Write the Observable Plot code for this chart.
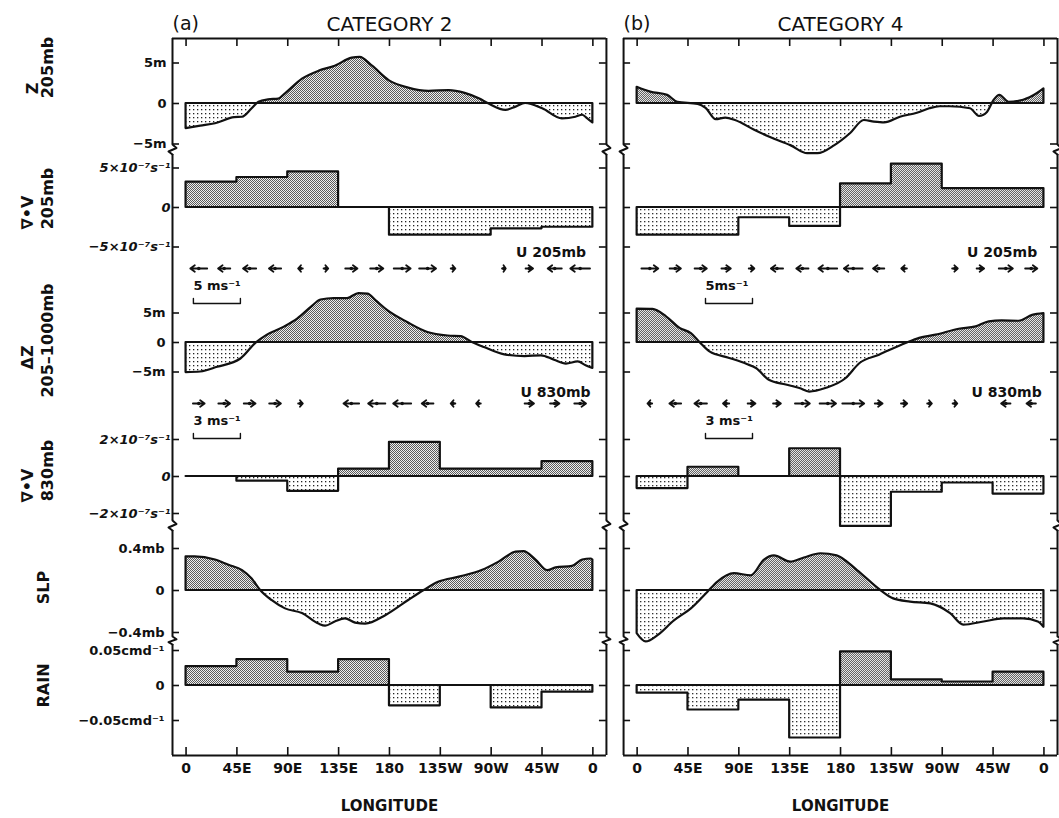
<!DOCTYPE html>
<html>
<head>
<meta charset="utf-8">
<script src="https://cdn.jsdelivr.net/npm/d3@7"></script>
<script src="https://cdn.jsdelivr.net/npm/@observablehq/plot@0.6"></script>
<style>
  html, body { margin: 0; padding: 0; background: #fff; }
  #chart { position: relative; width: 1059px; height: 818px; overflow: hidden; background: #fff; }
  #chart > svg { position: absolute; left: 0; top: 0; }
</style>
</head>
<body>
<svg width="0" height="0" style="position:absolute">
  <defs>
    <pattern id="dense" width="2" height="2" patternUnits="userSpaceOnUse">
      <rect width="2" height="2" fill="#eeeeee"/>
      <rect width="1" height="1" fill="#5a5a5a"/>
      <rect x="1" y="1" width="1" height="1" fill="#5a5a5a"/>
    </pattern>
    <pattern id="sparse" width="4" height="4" patternUnits="userSpaceOnUse">
      <rect width="4" height="4" fill="#ffffff"/>
      <rect x="1" y="1" width="1.3" height="1.3" fill="#222"/>
    </pattern>
  </defs>
</svg>
<div id="chart"></div>
<script>
// ---------------- data ----------------
const panels = ["a", "b"];
const panelTags = ["(a)", "(b)"];
const categories = ["CATEGORY 2", "CATEGORY 4"];
const lonTicks = [0, 45, 90, 135, 180, 225, 270, 315, 360];
const lonLabels = ["0", "45E", "90E", "135E", "180", "135W", "90W", "45W", "0"];

// Z 205mb anomaly (m): [longitude, value]
const z205A = [[0,-3.1],[13,-2.8],[26,-2.5],[43,-1.75],[50,-1.7],[58.5,-0.65],[64.5,0.15],[73,0.45],[82,0.55],[88,1.2],[103,3.0],[118,4.0],[132,4.6],[147,5.6],[154,5.7],[165,4.6],[180,2.8],[197,1.9],[215,1.5],[233,1.6],[247,1.25],[260,0.55],[268.6,-0.1],[283,-0.85],[292,-0.45],[300.5,0],[315.6,-0.65],[333,-1.9],[345,-1.7],[351,-1.45],[355.5,-1.9],[360,-2.4]];
const z205B = [[0,2.0],[12,1.4],[27,1.0],[36,0.15],[54,-0.1],[61,-0.6],[70,-2.0],[78.5,-1.8],[87,-2.1],[104,-3.3],[118,-4.2],[136,-5.2],[151,-6.2],[160,-6.2],[175,-5.2],[189,-3.7],[201,-2.1],[210,-2.3],[219,-2.4],[233,-1.7],[248,-1.2],[259,-0.65],[268,-0.4],[277,-0.4],[295,-0.65],[303,-1.6],[310,-1.1],[316,0.4],[321,1.0],[329,0.15],[342,0.4],[354,1.2],[360,1.8]];

// divergence 205mb (1e-7 s^-1), one value per 45° box
const div205A = [3.2, 3.8, 4.5, 0, -3.5, -3.5, -2.7, -2.5];
const div205B = [-3.5, -3.5, -1.3, -2.4, 3.0, 5.5, 2.4, 2.4];

// zonal wind (m/s) at arrow longitudes
const windLon = [11.25, 33.75, 56.25, 78.75, 101.25, 123.75, 146.25, 168.75, 191.25, 213.75, 236.25, 258.75, 281.25, 303.75, 326.25, 348.75];
const u205A = [-1.8, -1.3, -1.4, -1.3, -0.5, 0.5, 1.3, 1.4, 1.8, 1.8, 0.5, 0, 0.4, 0.8, -1.5, -2.1];
const u205B = [1.8, 1.2, 1.3, 1.0, 0.6, -1.3, -1.3, -2.0, -2.0, -1.2, -0.6, 0, 0.6, 0.8, 1.5, 1.3];
const u830A = [0.75, 0.75, 0.75, 0.75, 0.3, 0, -1.0, -1.1, -1.15, -0.75, -0.3, -0.3, 0, 0.6, 0.6, 0.75];
const u830B = [-0.3, -0.75, -0.8, -0.4, 0.5, 0.5, 0.95, 1.05, 1.4, 0.5, 0.4, 0.3, 0.3, 0, -0.6, -0.6];

// thickness 205-1000mb (m)
const dzA = [[0,-5.1],[13,-5.0],[28,-4.2],[48.5,-2.8],[62,-0.1],[72,1.25],[87,2.6],[99,4.0],[110.5,5.9],[119.4,7.2],[131,7.45],[143,7.45],[153,8.3],[161,8.2],[168,7.1],[178.5,5.4],[196,3.4],[214,1.7],[232,1.1],[243.5,1.0],[252.4,0.1],[264,-0.85],[282,-2.1],[300,-2.4],[314.5,-2.25],[326,-3.0],[336.6,-3.65],[347,-3.3],[354,-3.95],[360,-4.4]];
const dzB = [[0,5.65],[14,5.6],[26,4.35],[38,2.4],[48,1.5],[55.6,0],[64.4,-1.6],[82,-2.7],[97,-3.7],[105.6,-4.4],[117,-6.4],[132,-7.2],[144,-7.8],[152.7,-8.4],[167,-7.8],[185,-6.1],[197,-3.6],[214.5,-2.15],[238,-0.17],[250,0.7],[264.5,1.25],[285,2.25],[300,2.65],[311.6,3.5],[323,3.65],[338,3.6],[350,4.6],[360,4.9]];

// divergence 830mb (1e-7 s^-1)
const div830A = [0, -0.25, -0.8, 0.4, 1.85, 0.4, 0.4, 0.8];
const div830B = [-0.65, 0.5, 0, 1.5, -2.7, -0.85, -0.35, -0.95];

// sea level pressure (mb)
const slpA = [[0,0.32],[8,0.32],[26,0.29],[38,0.24],[50,0.19],[58.5,0.11],[66,0],[76,-0.095],[88,-0.175],[103,-0.22],[117.6,-0.32],[123.5,-0.34],[132,-0.3],[141,-0.27],[150,-0.31],[159,-0.32],[176.7,-0.24],[197,-0.095],[210.7,0],[224,0.08],[241.8,0.127],[262,0.19],[277,0.27],[292,0.365],[299,0.37],[309.7,0.29],[320,0.19],[327.4,0.216],[342,0.23],[351,0.29],[358.4,0.3],[360,0.29]];
const slpB = [[0,-0.41],[8,-0.49],[18.5,-0.43],[33,-0.29],[48,-0.175],[62.7,-0.016],[71.5,0.08],[86,0.16],[101,0.14],[112.7,0.29],[121.5,0.33],[136,0.27],[148,0.31],[162.7,0.35],[177,0.33],[195,0.19],[215.6,0],[227,-0.08],[242,-0.11],[259.8,-0.127],[277.4,-0.22],[289,-0.33],[307,-0.3],[324.5,-0.27],[342,-0.27],[355,-0.3],[360,-0.35]];

// rain (cm/day)
const rainA = [0.027, 0.037, 0.019, 0.037, -0.029, 0, -0.032, -0.0095];
const rainB = [-0.011, -0.035, -0.021, -0.075, 0.048, 0.008, 0.005, 0.019];

// axis ticks per row
const zTicks = [5, 0, -5], zTickLabels = ["5m", "0", "\u22125m"];
const div205Ticks = [5, 0, -5], div205TickLabels = ["5\u00d710\u207b\u2077s\u207b\u00b9", "0", "\u22125\u00d710\u207b\u2077s\u207b\u00b9"];
const dzTicks = [5, 0, -5], dzTickLabels = ["5m", "0", "\u22125m"];
const div830Ticks = [2, 0, -2], div830TickLabels = ["2\u00d710\u207b\u2077s\u207b\u00b9", "0", "\u22122\u00d710\u207b\u2077s\u207b\u00b9"];
const slpTicks = [0.4, 0, -0.4], slpTickLabels = ["0.4mb", "0", "\u22120.4mb"];
const rainTicks = [0.05, 0, -0.05], rainTickLabels = ["0.05cmd\u207b\u00b9", "0", "\u22120.05cmd\u207b\u00b9"];

const key205 = [{panel: "a", lon: 6.5, speed: 5, label: "5 ms\u207b\u00b9"}, {panel: "b", lon: 60.5, speed: 5, label: "5ms\u207b\u00b9"}];
const key830 = [{panel: "a", lon: 6.5, speed: 3, label: "3 ms\u207b\u00b9"}, {panel: "b", lon: 60.5, speed: 3, label: "3 ms\u207b\u00b9"}];

// ---------------- helpers ----------------
const W = 1059, H = 818, ML = 172, MR = 2;
const XD = [-12, 372];
const TICK = 6.2;
const ink = "#111";
const FONT = "'DejaVu Sans', 'Liberation Sans', sans-serif";

const windArrow = {
  draw(ctx, l) {
    const h = Math.min(4.5, l * 0.6);
    ctx.moveTo(0, 0); ctx.lineTo(0, -l);
    ctx.moveTo(-3.2, -l + h); ctx.lineTo(0, -l); ctx.lineTo(3.2, -l + h);
  }
};
const bracket = {
  draw(ctx, l) {
    ctx.moveTo(-5, 0); ctx.lineTo(0, 0); ctx.lineTo(0, -l); ctx.lineTo(-5, -l);
  }
};
const zig = {
  draw(ctx, l) {
    ctx.moveTo(0, 0); ctx.lineTo(-4, -l * 0.3); ctx.lineTo(4, -l * 0.65); ctx.lineTo(0, -l);
  }
};

const curveData = (a, b) => [...a.map(([lon, v]) => ({panel: "a", lon, v})), ...b.map(([lon, v]) => ({panel: "b", lon, v}))];
const stepData = (a, b) => {
  const f = (vals, panel) => [...vals.map((v, i) => ({panel, lon: lonTicks[i], v})), {panel, lon: 360, v: vals[vals.length - 1]}];
  return [...f(a, "a"), ...f(b, "b")];
};

function fillMarks(data, curve) {
  return [
    Plot.areaY(data, {fx: "panel", x: "lon", y1: 0, y2: d => Math.max(0, d.v), curve, fill: "url(#dense)"}),
    Plot.areaY(data, {fx: "panel", x: "lon", y1: 0, y2: d => Math.min(0, d.v), curve, fill: "url(#sparse)"}),
    Plot.areaY(data, {fx: "panel", x: "lon", y1: 0, y2: "v", curve, fill: "none", stroke: ink, strokeWidth: 2.2, strokeLinejoin: "round"})
  ];
}

function yTickMarks(vals, labels, dx, italic) {
  const d = vals.map((v, i) => ({v, t: labels[i]}));
  return [
    Plot.ruleY(vals, {x1: XD[0], x2: XD[0] + TICK, stroke: ink, strokeWidth: 1.6}),
    Plot.ruleY(vals, {x1: XD[1] - TICK, x2: XD[1], stroke: ink, strokeWidth: 1.6}),
    Plot.text(d, {fx: () => "a", y: "v", text: "t", frameAnchor: "left", textAnchor: "end", dx,
      fontSize: 13, fontWeight: "bold", fontStyle: italic ? "italic" : "normal"})
  ];
}

function rowLabel(t, dx, dy) {
  return Plot.text([t], {fx: () => "a", y: 0, frameAnchor: "left", textAnchor: "middle", text: d => d, dx, dy,
    rotate: -90, fontSize: 16, fontWeight: "bold"});
}

function zigMarks(top, gap) {
  return ["left", "right"].map(fa => Plot.vector([top], {y: d => d, frameAnchor: fa, length: gap, rotate: 0,
    anchor: "start", shape: zig, stroke: ink, strokeWidth: 2, fill: "none"}));
}

function windMarks(uA, uB, label, labelLon, labelDy, keys) {
  const data = [...uA.map((u, i) => ({panel: "a", lon: windLon[i], u})), ...uB.map((u, i) => ({panel: "b", lon: windLon[i], u}))]
    .filter(d => d.u !== 0);
  return [
    Plot.vector(data, {fx: "panel", x: "lon", y: 0, length: d => Math.abs(d.u), rotate: d => d.u > 0 ? 90 : -90,
      anchor: "middle", shape: windArrow, stroke: ink, strokeWidth: 1.8}),
    Plot.dot(data, {fx: "panel", x: "lon", y: 0, r: 1.8, fill: ink}),
    Plot.text(panels, {fx: d => d, x: labelLon, y: labelDy, text: () => label, textAnchor: "end", fontSize: 14, fontWeight: "bold"}),
    Plot.vector(keys, {fx: "panel", x: "lon", y: -35, length: "speed", rotate: 90, anchor: "start",
      shape: bracket, stroke: ink, strokeWidth: 1.4}),
    Plot.text(keys, {fx: "panel", x: "lon", y: -17, text: "label", textAnchor: "start", fontSize: 13, fontWeight: "bold"})
  ];
}

function rowPlot({section, zero, ppu, length}, build) {
  const domain = [-(section[1] - zero) / ppu, (zero - section[0]) / ppu];
  const opts = {
    width: W, height: H, marginLeft: ML, marginRight: MR,
    marginTop: section[0], marginBottom: H - section[1],
    fx: {domain: panels, axis: null, paddingInner: 0.038, paddingOuter: 0, round: false},
    x: {domain: XD, axis: null},
    y: {domain, axis: null},
    style: {background: "none", fontFamily: FONT, color: ink},
    marks: build(domain)
  };
  if (length) opts.length = length;
  return Plot.plot(opts);
}

// ---------------- layout of rows ----------------
const S1 = [38, 144], S2 = [154, 520], S3 = [530, 636], S4 = [644, 755];
const chart = document.getElementById("chart");
const add = p => chart.appendChild(p);

// Z 205mb
add(rowPlot({section: S1, zero: 103, ppu: 8.1}, dom => [
  ...fillMarks(curveData(z205A, z205B), "monotone-x"),
  Plot.ruleX(XD, {stroke: ink, strokeWidth: 2}),
  Plot.ruleY([dom[1]], {stroke: ink, strokeWidth: 2}),
  Plot.ruleX(lonTicks, {y1: dom[1], y2: dom[1] - 8 / 8.1, stroke: ink, strokeWidth: 1.6}),
  ...yTickMarks(zTicks, zTickLabels, -6, false),
  Plot.text(panels.map((p, i) => ({panel: p, t: categories[i]})), {fx: "panel", x: 180, text: "t", frameAnchor: "top", dy: -22, fontSize: 20}),
  Plot.text(panels.map((p, i) => ({panel: p, t: panelTags[i]})), {fx: "panel", text: "t", frameAnchor: "top-left", textAnchor: "start", dy: -22, fontSize: 19}),
  rowLabel("Z", -140, -15),
  rowLabel("205mb", -125, -36)
]));

// divergence 205mb (also owns the frame of the middle section)
add(rowPlot({section: S2, zero: 207, ppu: 7.9}, dom => [
  ...fillMarks(stepData(div205A, div205B), "step-after"),
  Plot.ruleX(XD, {stroke: ink, strokeWidth: 2}),
  ...zigMarks(dom[1], 10),
  ...yTickMarks(div205Ticks, div205TickLabels, -2, true),
  rowLabel("\u2207\u2022V", -145, 5),
  rowLabel("205mb", -125, -9)
]));

// U 205mb
add(rowPlot({section: S2, zero: 268, ppu: 1, length: {domain: [0, 5], range: [0, 47]}}, dom => [
  ...windMarks(u205A, u205B, "U 205mb", 354, 16, key205)
]));

// thickness 205-1000mb
add(rowPlot({section: S2, zero: 342, ppu: 5.9}, dom => [
  ...fillMarks(curveData(dzA, dzB), "monotone-x"),
  ...yTickMarks(dzTicks, dzTickLabels, -7, false),
  rowLabel("\u0394Z", -145, 15),
  rowLabel("205\u20131000mb", -125, -2)
]));

// U 830mb
add(rowPlot({section: S2, zero: 403, ppu: 1, length: {domain: [0, 3], range: [0, 47]}}, dom => [
  ...windMarks(u830A, u830B, "U 830mb", 358, 11, key830)
]));

// divergence 830mb
add(rowPlot({section: S2, zero: 476, ppu: 18.5}, dom => [
  ...fillMarks(stepData(div830A, div830B), "step-after"),
  ...yTickMarks(div830Ticks, div830TickLabels, -2, true),
  rowLabel("\u2207\u2022V", -145, 9),
  rowLabel("830mb", -125, -6)
]));

// SLP
add(rowPlot({section: S3, zero: 590, ppu: 105}, dom => [
  ...fillMarks(curveData(slpA, slpB), "monotone-x"),
  Plot.ruleX(XD, {stroke: ink, strokeWidth: 2}),
  ...zigMarks(dom[1], 10),
  ...yTickMarks(slpTicks, slpTickLabels, -8, false),
  rowLabel("SLP", -129, -3)
]));

// RAIN
add(rowPlot({section: S4, zero: 685, ppu: 700}, dom => [
  ...fillMarks(stepData(rainA, rainB), "step-after"),
  Plot.ruleX(XD, {stroke: ink, strokeWidth: 2}),
  Plot.ruleY([dom[0]], {stroke: ink, strokeWidth: 2}),
  Plot.ruleX(lonTicks, {y1: dom[0], y2: dom[0] + 8 / 700, stroke: ink, strokeWidth: 1.6}),
  ...zigMarks(dom[1], 8),
  ...yTickMarks(rainTicks, rainTickLabels, -8, false),
  Plot.text(lonTicks, {x: d => d, text: (d, i) => lonLabels[i], frameAnchor: "bottom", dy: 17, fontSize: 14, fontWeight: "bold"}),
  Plot.text(["LONGITUDE"], {x: 180, text: d => d, frameAnchor: "bottom", dy: 55, fontSize: 15, fontWeight: "bold"}),
  rowLabel("RAIN", -129, 0)
]));
</script>
</body>
</html>
